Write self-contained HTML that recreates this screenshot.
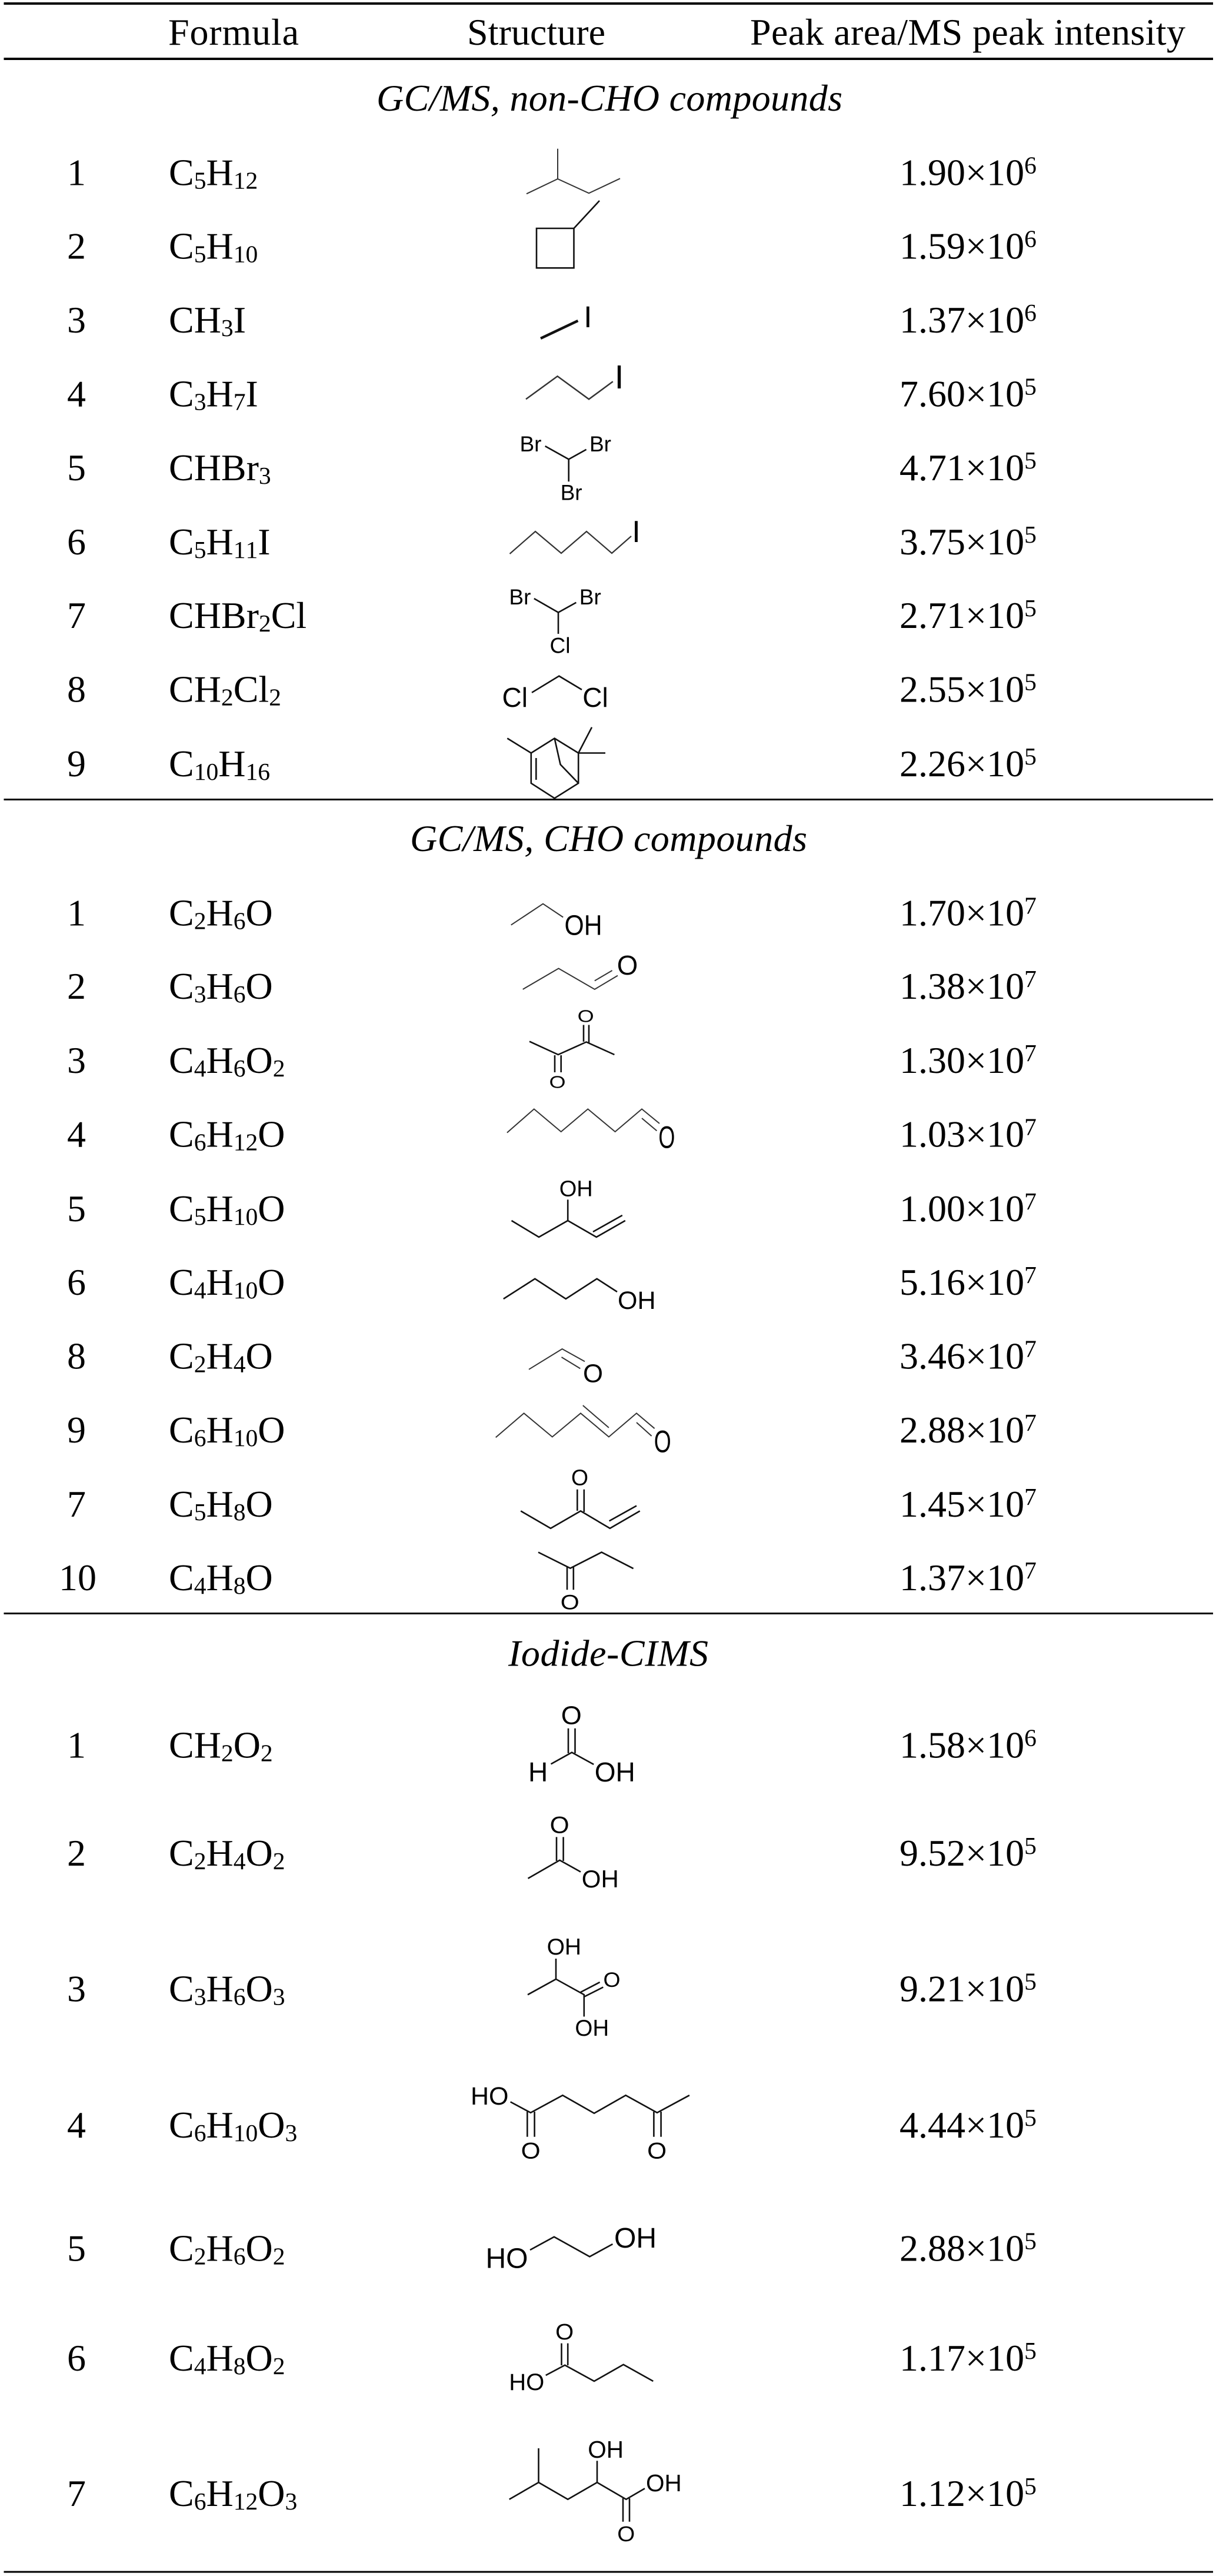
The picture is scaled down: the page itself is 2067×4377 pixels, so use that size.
<!DOCTYPE html>
<html><head><meta charset="utf-8"><style>
html,body{margin:0;padding:0;background:#fff}
svg{display:block}
.t{font-family:"Liberation Serif",serif;font-size:64px;fill:#000;font-kerning:none}
.i{font-style:italic}
.s{font-size:41.6px;baseline-shift:-6px}
.u{font-size:41.6px;baseline-shift:20px}
.m{font-family:"Liberation Sans",sans-serif;fill:#000}
.o{font-family:"Liberation Sans",sans-serif;fill:#000;text-anchor:middle}
.c{text-anchor:middle}
.b{fill:none;stroke:#111;stroke-width:2.6;stroke-linejoin:miter}
.n{fill:none;stroke:#333;stroke-width:2}
</style></head><body>
<svg width="2067" height="4377" viewBox="0 0 2067 4377" xmlns="http://www.w3.org/2000/svg">
<rect width="2067" height="4377" fill="#fff"/>
<g fill="#000">
<rect x="6.500" y="4" width="2055.500" height="4"/>
<rect x="6.500" y="98" width="2055.500" height="4"/>
<rect x="6.500" y="1357" width="2055.500" height="3"/>
<rect x="6.500" y="2740" width="2055.500" height="3"/>
<rect x="6.500" y="4368.500" width="2055.500" height="3"/>
</g>
<g class="t">
<text x="286" y="76" textLength="222">Formula</text>
<text x="794" y="76" textLength="235">Structure</text>
<text x="1275" y="76" textLength="740">Peak area/MS peak intensity</text>
<text class="i" x="640" y="188" textLength="792">GC/MS, non-CHO compounds</text>
<text class="i" x="697" y="1446" textLength="675">GC/MS, CHO compounds</text>
<text class="i" x="864" y="2830.500" textLength="340">Iodide-CIMS</text>

<g class="c">
<text x="130" y="314.500">1</text><text x="130" y="439.500">2</text><text x="130" y="565">3</text><text x="130" y="690.500">4</text><text x="130" y="816">5</text><text x="130" y="942">6</text><text x="130" y="1067">7</text><text x="130" y="1192.500">8</text><text x="130" y="1319">9</text>
<text x="130" y="1572.500">1</text><text x="130" y="1697">2</text><text x="130" y="1823">3</text><text x="130" y="1948.500">4</text><text x="130" y="2075">5</text><text x="130" y="2200">6</text><text x="130" y="2325.500">8</text><text x="130" y="2451">9</text><text x="130" y="2577">7</text><text x="132" y="2702">10</text>
<text x="130" y="2986.500">1</text><text x="130" y="3170">2</text><text x="130" y="3400.500">3</text><text x="130" y="3632">4</text><text x="130" y="3841.500">5</text><text x="130" y="4028">6</text><text x="130" y="4258">7</text>
</g>

<text x="287" y="314.500">C<tspan class="s">5</tspan>H<tspan class="s">12</tspan></text>
<text x="287" y="439.500">C<tspan class="s">5</tspan>H<tspan class="s">10</tspan></text>
<text x="287" y="565">CH<tspan class="s">3</tspan>I</text>
<text x="287" y="690.500">C<tspan class="s">3</tspan>H<tspan class="s">7</tspan>I</text>
<text x="287" y="816">CHBr<tspan class="s">3</tspan></text>
<text x="287" y="942">C<tspan class="s">5</tspan>H<tspan class="s">11</tspan>I</text>
<text x="287" y="1067">CHBr<tspan class="s">2</tspan>Cl</text>
<text x="287" y="1192.500">CH<tspan class="s">2</tspan>Cl<tspan class="s">2</tspan></text>
<text x="287" y="1319">C<tspan class="s">10</tspan>H<tspan class="s">16</tspan></text>

<text x="287" y="1572.500">C<tspan class="s">2</tspan>H<tspan class="s">6</tspan>O</text>
<text x="287" y="1697">C<tspan class="s">3</tspan>H<tspan class="s">6</tspan>O</text>
<text x="287" y="1823">C<tspan class="s">4</tspan>H<tspan class="s">6</tspan>O<tspan class="s">2</tspan></text>
<text x="287" y="1948.500">C<tspan class="s">6</tspan>H<tspan class="s">12</tspan>O</text>
<text x="287" y="2075">C<tspan class="s">5</tspan>H<tspan class="s">10</tspan>O</text>
<text x="287" y="2200">C<tspan class="s">4</tspan>H<tspan class="s">10</tspan>O</text>
<text x="287" y="2325.500">C<tspan class="s">2</tspan>H<tspan class="s">4</tspan>O</text>
<text x="287" y="2451">C<tspan class="s">6</tspan>H<tspan class="s">10</tspan>O</text>
<text x="287" y="2577">C<tspan class="s">5</tspan>H<tspan class="s">8</tspan>O</text>
<text x="287" y="2702">C<tspan class="s">4</tspan>H<tspan class="s">8</tspan>O</text>

<text x="287" y="2986.500">CH<tspan class="s">2</tspan>O<tspan class="s">2</tspan></text>
<text x="287" y="3170">C<tspan class="s">2</tspan>H<tspan class="s">4</tspan>O<tspan class="s">2</tspan></text>
<text x="287" y="3400.500">C<tspan class="s">3</tspan>H<tspan class="s">6</tspan>O<tspan class="s">3</tspan></text>
<text x="287" y="3632">C<tspan class="s">6</tspan>H<tspan class="s">10</tspan>O<tspan class="s">3</tspan></text>
<text x="287" y="3841.500">C<tspan class="s">2</tspan>H<tspan class="s">6</tspan>O<tspan class="s">2</tspan></text>
<text x="287" y="4028">C<tspan class="s">4</tspan>H<tspan class="s">8</tspan>O<tspan class="s">2</tspan></text>
<text x="287" y="4258">C<tspan class="s">6</tspan>H<tspan class="s">12</tspan>O<tspan class="s">3</tspan></text>

<text x="1529" y="314.500">1.90×10<tspan class="u">6</tspan></text>
<text x="1529" y="439.500">1.59×10<tspan class="u">6</tspan></text>
<text x="1529" y="565">1.37×10<tspan class="u">6</tspan></text>
<text x="1529" y="690.500">7.60×10<tspan class="u">5</tspan></text>
<text x="1529" y="816">4.71×10<tspan class="u">5</tspan></text>
<text x="1529" y="942">3.75×10<tspan class="u">5</tspan></text>
<text x="1529" y="1067">2.71×10<tspan class="u">5</tspan></text>
<text x="1529" y="1192.500">2.55×10<tspan class="u">5</tspan></text>
<text x="1529" y="1319">2.26×10<tspan class="u">5</tspan></text>

<text x="1529" y="1572.500">1.70×10<tspan class="u">7</tspan></text>
<text x="1529" y="1697">1.38×10<tspan class="u">7</tspan></text>
<text x="1529" y="1823">1.30×10<tspan class="u">7</tspan></text>
<text x="1529" y="1948.500">1.03×10<tspan class="u">7</tspan></text>
<text x="1529" y="2075">1.00×10<tspan class="u">7</tspan></text>
<text x="1529" y="2200">5.16×10<tspan class="u">7</tspan></text>
<text x="1529" y="2325.500">3.46×10<tspan class="u">7</tspan></text>
<text x="1529" y="2451">2.88×10<tspan class="u">7</tspan></text>
<text x="1529" y="2577">1.45×10<tspan class="u">7</tspan></text>
<text x="1529" y="2702">1.37×10<tspan class="u">7</tspan></text>

<text x="1529" y="2986.500">1.58×10<tspan class="u">6</tspan></text>
<text x="1529" y="3170">9.52×10<tspan class="u">5</tspan></text>
<text x="1529" y="3400.500">9.21×10<tspan class="u">5</tspan></text>
<text x="1529" y="3632">4.44×10<tspan class="u">5</tspan></text>
<text x="1529" y="3841.500">2.88×10<tspan class="u">5</tspan></text>
<text x="1529" y="4028">1.17×10<tspan class="u">5</tspan></text>
<text x="1529" y="4258">1.12×10<tspan class="u">5</tspan></text>
</g>

<!-- Section 1 structures -->
<polyline class="n" points="895,329.300 948,304 1001,328.300 1054,303.300"/>
<line class="n" x1="948" y1="252.700" x2="948" y2="304" stroke-width="3"/>
<path class="b" stroke-width="3" d="M912,388H975.500V455.300H912Z M975.500,388L1019,341"/>
<line class="b" style="stroke-width:4.500" x1="919" y1="575" x2="982.400" y2="545"/>
<text class="o" x="999.300" y="556" font-size="51">I</text>
<polyline class="n" style="stroke-width:2.500" points="894,678.300 947.600,639.300 1001,678.300 1041.800,648.300"/>
<text class="o" x="1052.500" y="660" font-size="57">I</text>

<path class="b" d="M926.600,758L966.700,780.400L996.600,763.800M966.700,780.400V818.300"/>
<text class="m" x="883.500" y="767" font-size="37">Br</text>
<text class="m" x="1002" y="767" font-size="37">Br</text>
<text class="m" x="952.600" y="849.600" font-size="37">Br</text>

<polyline class="n" style="stroke-width:2.200" points="866.500,941 910,903 954,940 997,903 1040,940 1073,911"/>
<text class="o" x="1081.500" y="921" font-size="52">I</text>

<path class="b" d="M907.800,1017L949,1040.600L979.400,1023.700M949,1040.600V1077"/>
<text class="m" x="865.400" y="1026.800" font-size="37">Br</text>
<text class="m" x="984.800" y="1026.800" font-size="37">Br</text>
<text class="m" x="934.500" y="1109.400" font-size="37">Cl</text>

<path class="b" d="M904,1176.800L950.300,1148.700L989,1171.900"/>
<text class="m" x="853.500" y="1201" font-size="46">Cl</text>
<text class="m" x="990.300" y="1201" font-size="46">Cl</text>

<path class="b" d="M862.300,1254.500L902.800,1279.500L942.600,1254.500L983.200,1279.500V1330.800L942.600,1356.300L902.800,1330.800V1279.500M942.600,1254.500L952.600,1299L983.200,1330.800M983.200,1279.500L1006,1235.700M983.200,1279.500H1029M911.300,1288V1325"/>

<!-- Section 2 structures -->
<polyline class="n" points="868.700,1571.700 923,1535.700 957.200,1558.500"/>
<text class="m" x="959.500" y="1588.500" font-size="48" textLength="64" lengthAdjust="spacingAndGlyphs">OH</text>

<path class="n" d="M888.700,1681L949.500,1645.500L1010.800,1681L1050,1657.600M1010.800,1666.500L1040.600,1649"/>
<text class="o" x="1066.500" y="1656.200" font-size="46" textLength="35.500" lengthAdjust="spacingAndGlyphs">O</text>

<path class="b" d="M900,1769.600L948.800,1792L996.600,1770.500L1044.400,1792M992,1770V1741.500M1001,1772V1741.500M943,1793V1822M953.700,1793V1822"/>
<text class="o" x="995.600" y="1736.600" font-size="29" textLength="28" lengthAdjust="spacingAndGlyphs">O</text>
<text class="o" x="947.500" y="1848.300" font-size="29" textLength="28" lengthAdjust="spacingAndGlyphs">O</text>

<path class="n" d="M861.900,1924.600L907.800,1884.400L953.700,1923L999.300,1884.400L1045.600,1923L1091,1884.400L1121,1909M1091,1900L1116.400,1921.400"/>
<text class="o" x="1133.400" y="1950.600" font-size="53" textLength="28" lengthAdjust="spacingAndGlyphs">O</text>

<path class="b" d="M869.500,2074L916,2102L965.200,2074L1013.800,2102L1062.800,2074M965.200,2074V2038.400M1008,2093L1057.800,2065"/>
<text class="m" x="950.700" y="2032.600" font-size="38">OH</text>

<polyline class="b" points="855.800,2207 909.300,2172.800 961.800,2207 1014.600,2172.800 1049,2195"/>
<text class="m" x="1050" y="2224" font-size="43">OH</text>

<path class="n" d="M899,2326.800L955.600,2292L994,2313.400M954.500,2306L986.300,2325.400"/>
<text class="o" x="1008" y="2348.500" font-size="44" textLength="34" lengthAdjust="spacingAndGlyphs">O</text>

<path class="n" d="M842.700,2442.400L890.600,2401.300L938.800,2441.500L987,2401.300L1034.900,2441.500L1082,2401.300L1112.600,2427.200M990.800,2388L1034.900,2425.900M1082,2417L1107.600,2440"/>
<text class="o" x="1126.300" y="2467.600" font-size="53" textLength="29" lengthAdjust="spacingAndGlyphs">O</text>

<path class="b" d="M885.200,2567.400L936,2596.900L987,2567.400L1036.800,2596.900L1087.700,2567.400M1035.600,2584.400L1082,2558.500M981.300,2567V2530.800M992.800,2569V2530.800"/>
<text class="o" x="985.500" y="2523.500" font-size="38" textLength="29" lengthAdjust="spacingAndGlyphs">O</text>

<path class="b" d="M915,2637.500L969.400,2664.700L1022.600,2637.500L1076.600,2665.200M964,2662V2701.300M974.800,2662V2701.300"/>
<text class="o" x="968.800" y="2734.400" font-size="35" textLength="32" lengthAdjust="spacingAndGlyphs">O</text>

<!-- Iodide-CIMS structures -->
<path class="b" d="M936.500,2997.400L972,2977.600L1009.200,2998M966,2979V2936.700M977.500,2979V2936.700"/>
<text class="o" x="971.300" y="2929.500" font-size="44" textLength="35" lengthAdjust="spacingAndGlyphs">O</text>
<text class="m" x="898" y="3027" font-size="46">H</text>
<text class="m" x="1010.700" y="3027" font-size="46">OH</text>

<path class="b" d="M897.500,3191.800L951.400,3160.700L987,3180.600M946,3162V3121.400M957.600,3162V3121.400"/>
<text class="o" x="951.200" y="3114.300" font-size="40" textLength="33" lengthAdjust="spacingAndGlyphs">O</text>
<text class="m" x="988.800" y="3207" font-size="42">OH</text>

<path class="b" d="M897,3389.300L945,3362.800L992.800,3389.300V3426.500M945,3362.800V3328M987,3385L1019.600,3368M992.800,3392.900L1025.300,3376.500"/>
<text class="m" x="929.600" y="3321" font-size="39">OH</text>
<text class="o" x="1040" y="3376" font-size="35" textLength="29" lengthAdjust="spacingAndGlyphs">O</text>
<text class="m" x="977.400" y="3459" font-size="38.500">OH</text>

<path class="b" d="M867.600,3571.400L902,3589.800L956.400,3560.200L1010,3590.800L1063.600,3560.200L1117,3589.800L1171.900,3560.200M896.300,3588V3630.700M908.600,3588V3630.700M1111.400,3588V3630.700M1123.600,3588V3630.700"/>
<text class="m" x="800" y="3576" font-size="43">HO</text>
<text class="o" x="902.200" y="3667.400" font-size="39" textLength="33" lengthAdjust="spacingAndGlyphs">O</text>
<text class="o" x="1116.700" y="3667.400" font-size="39" textLength="33" lengthAdjust="spacingAndGlyphs">O</text>

<polyline class="b" points="901,3823 941.900,3800.700 1002.300,3834.400 1041.400,3813"/>
<text class="m" x="825.500" y="3853.500" font-size="48">HO</text>
<text class="m" x="1044" y="3819" font-size="48">OH</text>

<path class="b" d="M927.700,4036L960.200,4018.700L1010,4046L1059.700,4017.700L1110.300,4046M954.500,4019V3981.600M965.200,4019V3981.600"/>
<text class="o" x="959.600" y="3975.200" font-size="38" textLength="31" lengthAdjust="spacingAndGlyphs">O</text>
<text class="m" x="865.200" y="4060.900" font-size="40">HO</text>

<path class="b" d="M865.700,4246.700L915.500,4218L965.200,4246.700L1015,4218L1064.300,4246.700L1096,4228.300M915.500,4218V4160M1015,4218V4181.300M1059,4245V4284.800M1070,4245V4284.800"/>
<text class="m" x="999.200" y="4175.800" font-size="40.500">OH</text>
<text class="m" x="1098" y="4232.800" font-size="40.500">OH</text>
<text class="o" x="1064.300" y="4318" font-size="36" textLength="30" lengthAdjust="spacingAndGlyphs">O</text>
</svg>
</body></html>
